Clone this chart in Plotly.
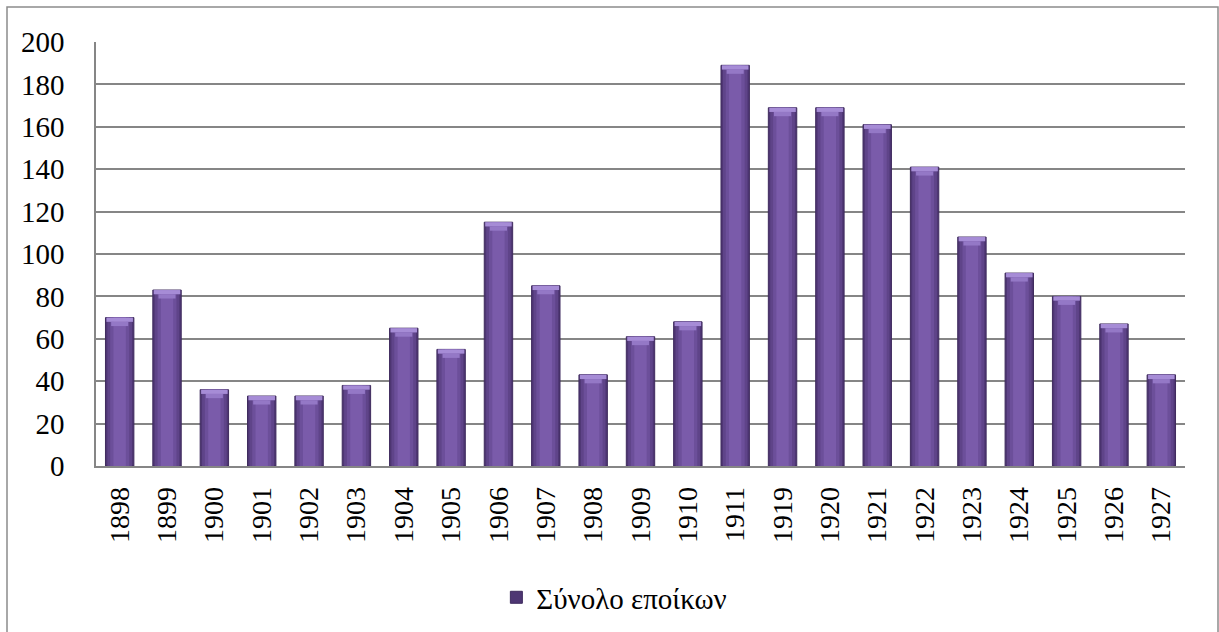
import plotly.graph_objects as go

years = ["1898", "1899", "1900", "1901", "1902", "1903", "1904", "1905", "1906", "1907",
         "1908", "1909", "1910", "1911", "1919", "1920", "1921", "1922", "1923", "1924",
         "1925", "1926", "1927"]
settlers = [70, 83, 36, 33, 33, 38, 65, 55, 115, 85,
            43, 61, 68, 189, 169, 169, 161, 141, 108, 91,
            80, 67, 43]
series_name = "Σύνολο εποίκων"
y_ticks = list(range(0, 201, 20))

W, H = 1219, 632
L, R, T, B = 96, 34, 42, 166
pw, ph = W - L - R, H - T - B
SERIF = "Liberation Serif, Times New Roman, serif"

fig = go.Figure()
# layered bars to imitate the shaded, bevelled bars
layers = [
    (0.60, "#4E3673", "#3F2B5E", True),
    (0.52, "#5F4489", None, False),
    (0.40, "#6C4F9A", None, False),
    (0.26, "#7A5BAA", None, False),
]
for w, col, line, show in layers:
    fig.add_trace(go.Bar(
        x=years, y=settlers, width=w, name=series_name, showlegend=show,
        marker=dict(color=col, line=dict(color=line or col, width=1 if line else 0)),
        hoverinfo="x+y",
    ))
# light bevel at the top of each bar (two steps, narrowing downward)
for h, w, col in [(2.0, 0.56, "#A68CD6"), (4.0, 0.36, "#9478C6")]:
    fig.add_trace(go.Bar(
        x=years, y=[h - (2.0 if h > 2 else 0)] * len(settlers),
        base=[v - h for v in settlers], width=w,
        marker=dict(color=col, line=dict(width=0)), showlegend=False, hoverinfo="skip",
    ))

fig.update_layout(
    width=W, height=H,
    barmode="overlay",
    margin=dict(l=L, r=R, t=T, b=B, autoexpand=False),
    paper_bgcolor="white", plot_bgcolor="white",
    font=dict(family=SERIF, color="black", size=28),
    showlegend=True,
    legend=dict(orientation="h", x=0.476, xanchor="center", y=-0.31, yanchor="middle",
                font=dict(size=29, family=SERIF), itemwidth=30),
    xaxis=dict(type="category", tickangle=-90, showgrid=False,
               showline=True, linecolor="#868686", linewidth=1.5,
               tickfont=dict(size=28, family=SERIF), ticks="", ticklabelstandoff=8, mirror=False),
    yaxis=dict(range=[0, 200], tickvals=y_ticks, showgrid=True, gridcolor="#868686",
               gridwidth=1.5, showline=True, linecolor="#868686", linewidth=1.5,
               ticks="", tickfont=dict(size=29, family=SERIF), ticklabelstandoff=24, zeroline=False),
    shapes=[dict(type="rect", xref="paper", yref="paper",
                 x0=(7 - L) / pw, x1=(1218 - L) / pw,
                 y0=(H - B - 645) / ph, y1=(H - B - 7) / ph,
                 line=dict(color="#8C8C8C", width=1.5), fillcolor="rgba(0,0,0,0)", layer="below")],
)

fig.write_html("out.html", config={"displayModeBar": False},
               post_script="document.body.style.margin='0';document.body.style.overflow='hidden';")
